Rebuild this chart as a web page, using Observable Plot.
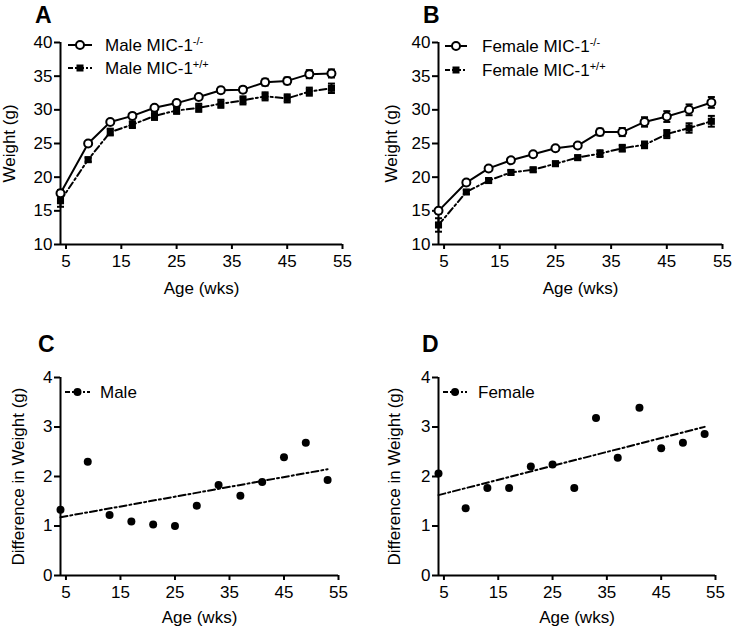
<!DOCTYPE html>
<html><head><meta charset="utf-8">
<script src="https://cdn.jsdelivr.net/npm/d3@7"></script>
<script src="https://cdn.jsdelivr.net/npm/@observablehq/plot@0.6"></script>
<style>
body{margin:0;background:#fff;}
#root{position:relative;width:736px;height:629px;overflow:hidden;}
#root svg{position:absolute;}
</style></head><body><div id="root"></div>
<script>
// ---- data ----
const weeks = [4, 9, 13, 17, 21, 25, 29, 33, 37, 41, 45, 49, 53];
const xTicks = [5, 15, 25, 35, 45, 55];
const weightTicks = [10, 15, 20, 25, 30, 35, 40];
const diffTicks = [0, 1, 2, 3, 4];

const maleKO      = [17.6, 25.0, 28.2, 29.1, 30.3, 31.0, 31.9, 32.9, 33.0, 34.1, 34.3, 35.3, 35.4];
const maleKOsem   = [0.5, 0.3, 0.3, 0.3, 0.3, 0.3, 0.3, 0.4, 0.4, 0.5, 0.5, 0.6, 0.6];
const maleWT      = [16.5, 22.6, 26.7, 27.8, 29.1, 29.9, 30.3, 30.9, 31.4, 32.0, 31.7, 32.7, 33.2];
const maleWTsem   = [0.9, 0.3, 0.5, 0.5, 0.6, 0.5, 0.6, 0.6, 0.6, 0.6, 0.6, 0.6, 0.7];
const femaleKO    = [15.0, 19.2, 21.3, 22.5, 23.4, 24.3, 24.7, 26.7, 26.7, 28.2, 29.0, 30.0, 31.1];
const femaleKOsem = [0.4, 0.3, 0.3, 0.3, 0.3, 0.3, 0.3, 0.5, 0.6, 0.7, 0.8, 0.8, 0.8];
const femaleWT    = [12.9, 17.8, 19.5, 20.7, 21.1, 22.0, 22.9, 23.5, 24.3, 24.8, 26.4, 27.3, 28.3];
const femaleWTsem = [1.0, 0.3, 0.3, 0.3, 0.3, 0.3, 0.3, 0.5, 0.5, 0.5, 0.6, 0.7, 0.8];
const maleDiff    = [1.33, 2.30, 1.22, 1.09, 1.03, 1.00, 1.41, 1.83, 1.61, 1.89, 2.39, 2.68, 1.93];
const femaleDiff  = [2.06, 1.36, 1.77, 1.77, 2.20, 2.24, 1.77, 3.18, 2.38, 3.39, 2.57, 2.68, 2.86];

const legendA = [{label: "Male MIC-1", sup: "-/-", kind: "open"}, {label: "Male MIC-1", sup: "+/+", kind: "square"}];
const legendB = [{label: "Female MIC-1", sup: "-/-", kind: "open"}, {label: "Female MIC-1", sup: "+/+", kind: "square"}];
const legendC = [{label: "Male", sup: "", kind: "dot"}];
const legendD = [{label: "Female", sup: "", kind: "dot"}];

// ---- helpers ----
const FONT = '"Liberation Sans", Arial, Helvetica, sans-serif';
const FS = 17;
const DASHDOT = "7,3,2,3";
const cap = {draw(ctx) { ctx.moveTo(-3.5, 0); ctx.lineTo(3.5, 0); }};
const rows = (ys, sems) => weeks.map((w, i) => ({x: w, y: ys[i], sem: sems ? sems[i] : 0}));

function seriesMarks(data, kind) {
  const dash = kind === "open" ? null : DASHDOT;
  return [
    Plot.ruleX(data, {x: "x", y1: d => d.y - d.sem, y2: d => d.y + d.sem, stroke: "black", strokeWidth: 2}),
    Plot.dot(data, {x: "x", y: d => d.y - d.sem, symbol: cap, r: 3, stroke: "black", strokeWidth: 2}),
    Plot.dot(data, {x: "x", y: d => d.y + d.sem, symbol: cap, r: 3, stroke: "black", strokeWidth: 2}),
    Plot.line(data, {x: "x", y: "y", stroke: "black", strokeWidth: 2, strokeDasharray: dash}),
    kind === "open"
      ? Plot.dot(data, {x: "x", y: "y", r: 4, fill: "white", stroke: "black", strokeWidth: 2})
      : Plot.dot(data, {x: "x", y: "y", r: 4, symbol: "square", fill: "black", stroke: "none"})
  ];
}

function panel(o) {
  const svg = Plot.plot({
    width: o.width, height: o.height,
    marginLeft: o.ml, marginRight: o.mr, marginTop: o.mt, marginBottom: o.mb,
    style: {fontFamily: FONT, fontSize: FS + "px", color: "black", background: "white"},
    x: {domain: [4, 55]},
    y: {domain: o.yDomain},
    marks: [
      Plot.axisX({ticks: xTicks, tickSize: 5, tickPadding: 5, strokeWidth: 2, fontSize: FS, tickFormat: d => String(d),
        label: "Age (wks)", labelAnchor: "center", labelOffset: o.xLabelOffset, labelArrow: "none"}),
      Plot.axisY({ticks: o.yTicks, tickSize: 6, tickPadding: 2, strokeWidth: 2, fontSize: FS, tickFormat: d => String(d),
        label: o.yLabel, labelAnchor: "center", labelOffset: o.yLabelOffset, labelArrow: "none"}),
      Plot.ruleX([4], {stroke: "black", strokeWidth: 2}),
      Plot.ruleY([o.yDomain[0]], {stroke: "black", strokeWidth: 2}),
      ...o.marks
    ]
  });
  svg.style.left = o.left + "px";
  svg.style.top = o.top + "px";
  const s = d3.select(svg);
  // panel letter
  s.append("text").attr("x", o.letterX).attr("y", o.letterY).attr("text-anchor", "start")
    .attr("font-family", FONT).attr("font-size", 23).attr("font-weight", "bold").attr("fill", "black")
    .text(o.letter);
  // legend
  const g = s.append("g").attr("transform", `translate(${o.ml},${o.mt})`)
    .attr("font-family", FONT).attr("font-size", FS).attr("fill", "black").attr("text-anchor", "start");
  o.legend.forEach((item, i) => {
    const y = o.legY + i * o.legStep;
    g.append("line").attr("x1", o.legX0).attr("x2", o.legX1).attr("y1", y).attr("y2", y)
      .attr("stroke", "black").attr("stroke-width", 2)
      .attr("stroke-dasharray", item.kind === "open" ? null : "5,2,2,2");
    const cx = (o.legX0 + o.legX1) / 2;
    if (item.kind === "open") g.append("circle").attr("cx", cx).attr("cy", y).attr("r", 4).attr("fill", "white").attr("stroke", "black").attr("stroke-width", 2);
    else if (item.kind === "square") g.append("rect").attr("x", cx - 3.5).attr("y", y - 3.5).attr("width", 7).attr("height", 7).attr("fill", "black");
    else g.append("circle").attr("cx", cx).attr("cy", y).attr("r", 4).attr("fill", "black");
    const t = g.append("text").attr("x", o.legText).attr("y", y).attr("dy", "0.35em");
    t.append("tspan").text(item.label);
    if (item.sup) t.append("tspan").attr("dy", "-0.55em").attr("font-size", 11).text(item.sup);
  });
  document.getElementById("root").appendChild(svg);
}

const A = rows(maleKO, maleKOsem), Aw = rows(maleWT, maleWTsem);
const B = rows(femaleKO, femaleKOsem), Bw = rows(femaleWT, femaleWTsem);
const C = rows(maleDiff), D = rows(femaleDiff);

const regMarks = data => [
  Plot.linearRegressionY(data, {x: "x", y: "y", ci: 0, stroke: "black", strokeWidth: 2, strokeDasharray: DASHDOT}),
  Plot.dot(data, {x: "x", y: "y", r: 4, fill: "black"})
];

panel({left: 0, top: 0, width: 370, height: 300, ml: 60, mr: 28, mt: 42, mb: 56,
  yDomain: [10, 40], yTicks: weightTicks, yLabel: "Weight (g)", yLabelOffset: 58, xLabelOffset: 49,
  marks: [...seriesMarks(Aw, "square"), ...seriesMarks(A, "open")],
  letter: "A", letterX: 35, letterY: 23,
  legend: legendA, legX0: 8, legX1: 32, legText: 45, legY: 3, legStep: 23});

panel({left: 370, top: 0, width: 366, height: 300, ml: 68, mr: 14, mt: 42, mb: 56,
  yDomain: [10, 40], yTicks: weightTicks, yLabel: "Weight (g)", yLabelOffset: 54, xLabelOffset: 49,
  marks: [...seriesMarks(Bw, "square"), ...seriesMarks(B, "open")],
  letter: "B", letterX: 53, letterY: 23,
  legend: legendB, legX0: 7, legX1: 29, legText: 44, legY: 4, legStep: 24});

panel({left: 0, top: 320, width: 370, height: 309, ml: 60, mr: 32, mt: 57, mb: 54,
  yDomain: [0, 4], yTicks: diffTicks, yLabel: "Difference in Weight (g)", yLabelOffset: 49, xLabelOffset: 47,
  marks: regMarks(C),
  letter: "C", letterX: 38, letterY: 32,
  legend: legendC, legX0: 5, legX1: 30, legText: 40, legY: 15, legStep: 22});

panel({left: 370, top: 320, width: 366, height: 309, ml: 68, mr: 21, mt: 57, mb: 54,
  yDomain: [0, 4], yTicks: diffTicks, yLabel: "Difference in Weight (g)", yLabelOffset: 51, xLabelOffset: 47,
  marks: regMarks(D),
  letter: "D", letterX: 52, letterY: 32,
  legend: legendD, legX0: 5, legX1: 29, legText: 40, legY: 15, legStep: 22});
</script></body></html>
